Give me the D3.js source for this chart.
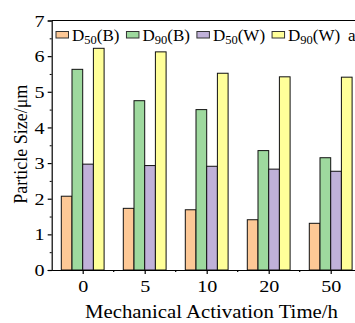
<!DOCTYPE html>
<html>
<head>
<meta charset="utf-8">
<script src="https://cdn.jsdelivr.net/npm/d3@7"></script>
<style>
  body { margin: 0; background: #fff; }
  svg { display: block; font-family: "Liberation Serif", "Times New Roman", serif; }
</style>
</head>
<body>
<svg id="chart" width="355" height="323"></svg>
<script>
// chart data
var times = ["0", "5", "10", "20", "50"];
var seriesNames = ["D50(B)", "D90(B)", "D50(W)", "D90(W)"];
var d50B = [2.07, 1.73, 1.69, 1.41, 1.31];
var d90B = [5.63, 4.75, 4.50, 3.35, 3.15];
var d50W = [2.97, 2.93, 2.91, 2.83, 2.77];
var d90W = [6.22, 6.12, 5.52, 5.42, 5.41];
var colors = ["#fdc896", "#9ed99e", "#c0b1d9", "#ffff99"];
var yTicks = [0, 1, 2, 3, 4, 5, 6, 7];

var seriesValues = [d50B, d90B, d50W, d90W];
var serif = "'Liberation Serif', 'Times New Roman', serif";

var svg = d3.select("#chart");
var mLeft = 51.7, mRight = 361.7, mTop = 20.5, mBottom = 270;

var x = d3.scalePoint().domain(times).range([mLeft, mRight]).padding(0.5);
var step = x.step();
var xSub = d3.scaleBand().domain(seriesNames).range([-21.4, 21.4]);
var y = d3.scaleLinear().domain([0, 7]).range([mBottom, mTop]);

// bars
var rows = [];
times.forEach(function (t, i) {
    seriesNames.forEach(function (s, j) {
        rows.push({time: t, series: s, value: seriesValues[j][i], color: colors[j]});
    });
});
svg.append("g").selectAll("rect")
    .data(rows)
    .enter().append("rect")
        .attr("x", d => x(d.time) + xSub(d.series))
        .attr("y", d => y(d.value))
        .attr("width", xSub.bandwidth())
        .attr("height", d => y(0) - y(d.value))
        .attr("fill", d => d.color)
        .attr("stroke", "#111")
        .attr("stroke-width", 1);

// frame: top line
svg.append("line").attr("x1", mLeft).attr("x2", mRight).attr("y1", mTop).attr("y2", mTop)
    .attr("stroke", "#000").attr("stroke-width", 1.2);

// y axis with minor ticks
var yAxis = d3.axisLeft(y).tickValues(yTicks).tickSize(4).tickFormat(d3.format("d"));
var gy = svg.append("g").attr("transform", "translate(" + mLeft + ",0)").call(yAxis)
    .attr("font-family", serif);
gy.select(".domain").attr("stroke-width", 1.2);
gy.selectAll("text").attr("font-size", 17.5).attr("fill", "#000")
    .attr("x", -6.3).attr("transform", "scale(1.15,1)");
gy.selectAll(".tick line").attr("stroke-width", 1.2);
var yMinor = d3.axisLeft(y).tickValues(d3.range(0.5, 7, 1)).tickSize(2).tickFormat("");
svg.append("g").attr("transform", "translate(" + mLeft + ",0)").call(yMinor)
    .select(".domain").remove();

// x axis with minor ticks between groups
var xAxis = d3.axisBottom(x).tickSize(4).tickSizeOuter(0);
var gx = svg.append("g").attr("transform", "translate(0," + mBottom + ")").call(xAxis)
    .attr("font-family", serif);
gx.select(".domain").attr("stroke-width", 1.2);
gx.selectAll("text").attr("font-size", 17.5).attr("fill", "#000").attr("y", 10)
    .attr("transform", "scale(1.15,1)");
gx.selectAll(".tick line").attr("stroke-width", 1.2);
var minorX = d3.range(1, times.length).map(i => mLeft + step * i);
svg.append("g").selectAll("line")
    .data(minorX)
    .enter().append("line")
        .attr("x1", d => d).attr("x2", d => d)
        .attr("y1", mBottom).attr("y2", mBottom + 2)
        .attr("stroke", "#000").attr("stroke-width", 1.2);

// axis titles
svg.append("text")
    .attr("x", 85).attr("y", 318)
    .attr("font-size", 18)
    .attr("textLength", 253).attr("lengthAdjust", "spacingAndGlyphs")
    .text("Mechanical Activation Time/h");
svg.append("text")
    .attr("transform", "translate(27," + ((mTop + mBottom) / 2 - 1) + ") rotate(-90)")
    .attr("text-anchor", "middle").attr("font-size", 18)
    .text("Particle Size/\u03bcm");

// legend
var legend = svg.append("g");
var lx = 56;
seriesNames.forEach(function (s, j) {
    legend.append("rect")
        .attr("x", lx).attr("y", 31.5).attr("width", 12.5).attr("height", 6.5)
        .attr("fill", colors[j]).attr("stroke", "#333").attr("stroke-width", 1);
    var t = legend.append("text").attr("x", lx + 16).attr("y", 40.5).attr("font-size", 17);
    t.append("tspan").text(s.slice(0, 1));
    t.append("tspan").attr("font-size", 12.5).attr("dy", 3).text(s.slice(1, 3));
    t.append("tspan").attr("dy", -3).text(s.slice(3));
    lx += 16 + t.node().getComputedTextLength() + 7;
});
svg.append("text").attr("x", 348).attr("y", 40.5).attr("font-size", 17).text("a");
</script>
</body>
</html>
